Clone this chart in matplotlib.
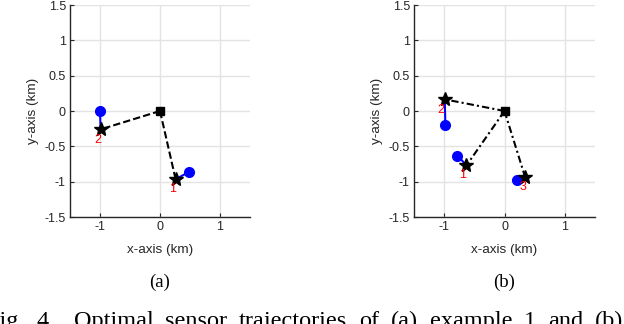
import matplotlib
matplotlib.use("Agg")
import matplotlib.pyplot as plt

# Panel (a)
a_center = (0.0, 0.0)
a_start_x = [0.49, -1.00]
a_start_y = [-0.86, 0.00]
a_end_x = [0.26, -0.99]
a_end_y = [-0.965, -0.26]
a_labels = ["1", "2"]
a_label_x = [0.21, -1.04]
a_label_y = [-1.11, -0.41]

# Panel (b)
b_center = (0.0, 0.0)
b_start_x = [-0.78, -0.98, 0.20]
b_start_y = [-0.63, -0.20, -0.98]
b_end_x = [-0.63, -0.99, 0.34]
b_end_y = [-0.77, 0.165, -0.93]
b_labels = ["1", "2", "3"]
b_label_x = [-0.69, -1.05, 0.30]
b_label_y = [-0.905, 0.01, -1.07]

ticks_x = [-1, 0, 1]
ticks_y = [-1.5, -1, -0.5, 0, 0.5, 1, 1.5]
tick_labels_y = ["-1.5", "-1", "-0.5", "0", "0.5", "1", "1.5"]
tick_labels_x = ["-1", "0", "1"]

caption_words = ["Fig.", "4.", "Optimal", "sensor", "trajectories", "of", "(a)",
                 "example", "1", "and", "(b)"]

W, H = 624, 324
fig = plt.figure(figsize=(W / 100, H / 100), dpi=100)

axc = "#262626"
gridc = "#e3e3e3"
sans = "Liberation Sans"


def panel(rect, center, sx, sy, ex, ey, labs, lx, ly, ls):
    ax = fig.add_axes(rect)
    ax.set_xlim(-1.5, 1.5)
    ax.set_ylim(-1.5, 1.5)
    ax.set_xticks(ticks_x)
    ax.set_xticklabels(tick_labels_x)
    ax.set_yticks(ticks_y)
    ax.set_yticklabels(tick_labels_y)
    ax.grid(True, color=gridc, linewidth=1.0)
    ax.set_axisbelow(True)
    for s in ["top", "right"]:
        ax.spines[s].set_visible(False)
    for s in ["left", "bottom"]:
        ax.spines[s].set_color(axc)
        ax.spines[s].set_linewidth(1.0)
    ax.tick_params(direction="in", length=3, width=0.8, color=axc,
                   labelcolor=axc, labelsize=9, pad=3)
    for t in ax.get_xticklabels() + ax.get_yticklabels():
        t.set_fontfamily(sans)
    ax.set_xlabel("x-axis (km)", fontsize=9.7, color=axc, family=sans, labelpad=8)
    ax.set_ylabel("y-axis (km)", fontsize=9.7, color=axc, family=sans, labelpad=4)
    for i in range(len(sx)):
        ax.plot([sx[i], ex[i]], [sy[i], ey[i]], color="blue", lw=1.5, zorder=3)
        ax.plot([sx[i]], [sy[i]], "o", color="blue", ms=7, zorder=4)
        ax.plot([center[0], ex[i]], [center[1], ey[i]], color="black", lw=1.5,
                linestyle=ls, zorder=3)
        ax.plot([ex[i]], [ey[i]], "*", color="black", ms=10, zorder=5)
        ax.text(lx[i], ly[i], labs[i], color="red", fontsize=9, family=sans,
                ha="center", va="center", zorder=6)
    ax.plot([center[0]], [center[1]], "s", color="black", ms=5.5, zorder=6)
    ax.patch.set_alpha(0)
    return ax


panel([70 / W, 1 - 217 / H, 180 / W, 212 / H], a_center, a_start_x, a_start_y,
      a_end_x, a_end_y, a_labels, a_label_x, a_label_y, (0, (3.5, 1.5)))
panel([414 / W, 1 - 217 / H, 181 / W, 212 / H], b_center, b_start_x, b_start_y,
      b_end_x, b_end_y, b_labels, b_label_x, b_label_y, (0, (3.5, 1.5, 1, 1.5)))

serif = "Liberation Serif"
fig.text(160 / W, 1 - 282 / H, "(a)", ha="center", va="center", fontsize=13.5,
         family=serif)
fig.text(504 / W, 1 - 282 / H, "(b)", ha="center", va="center", fontsize=13.5,
         family=serif)

# justified caption line (cut at the figure edges like the reference)
cap_fs = 17.5
base_y = 1 - 327 / H
texts = [fig.text(0, base_y, w, ha="left", va="baseline", fontsize=cap_fs,
                  family=serif) for w in caption_words]
fig.canvas.draw()
r = fig.canvas.get_renderer()
widths = [t.get_window_extent(r).width for t in texts]
fw = fig.text(0, 0, "F", fontsize=cap_fs, family=serif)
f_w = fw.get_window_extent(r).width
fw.remove()
left = -f_w
right = 623.0
total_words = sum(widths)
ngaps = len(widths) - 1
gap = (right - left - total_words) / (ngaps + 0.6)
x = left
for i, (t, wd) in enumerate(zip(texts, widths)):
    t.set_x(x / W)
    x += wd + gap
    if i == 1:
        x += gap * 0.6

fig.savefig("out.png", dpi=100)
